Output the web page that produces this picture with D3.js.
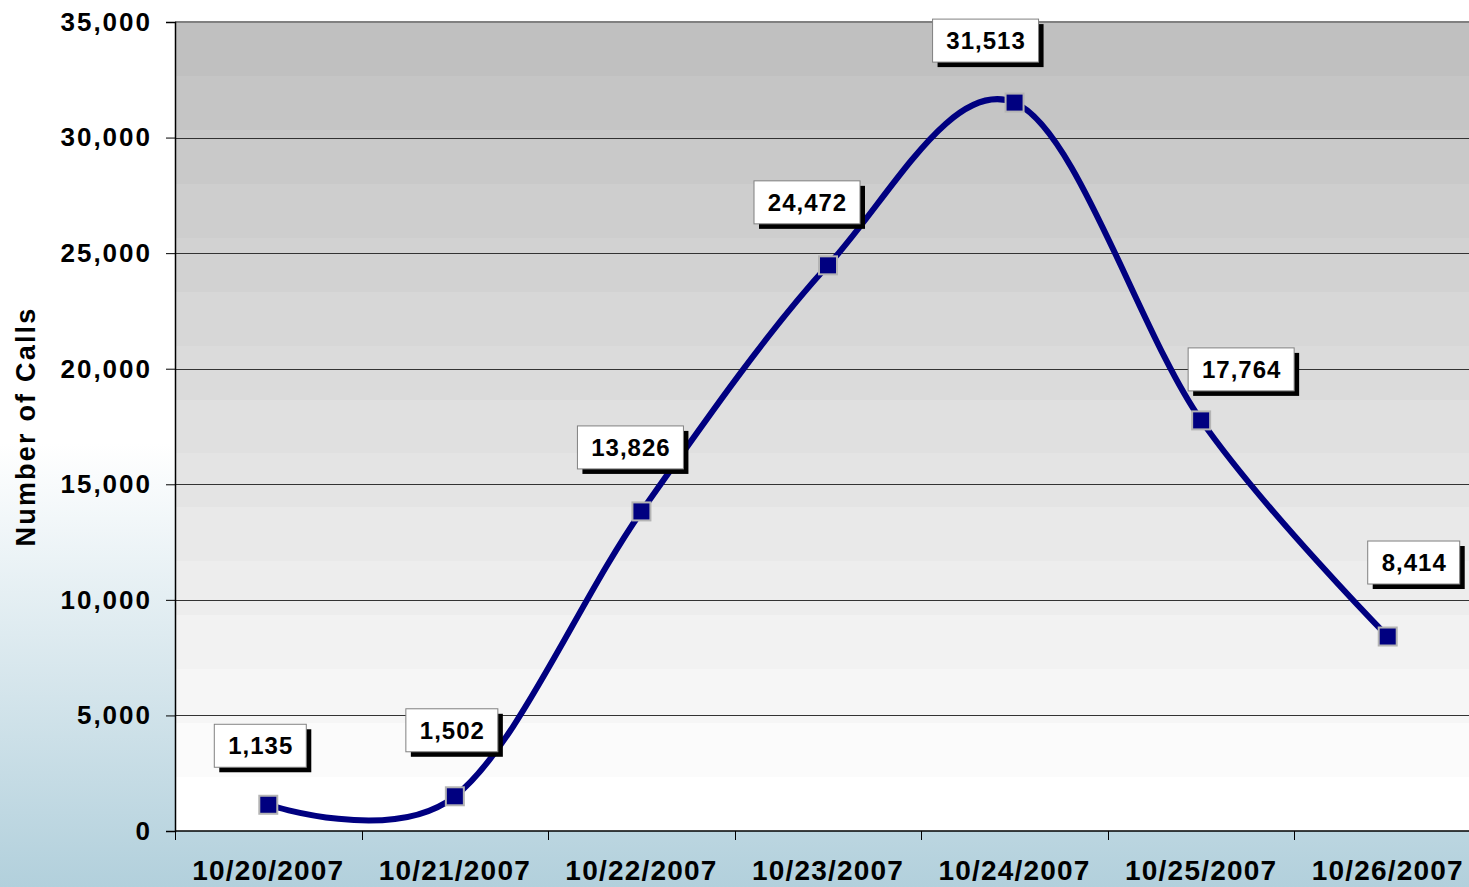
<!DOCTYPE html>
<html>
<head>
<meta charset="utf-8">
<script src="https://cdn.jsdelivr.net/npm/d3@7.9.0/dist/d3.min.js"></script>
<style>
  body { margin: 0; background: #fff; }
  svg { display: block; font-family: "Liberation Sans", Arial, sans-serif; font-weight: bold; }
</style>
</head>
<body>
<svg id="chart" width="1469" height="887"></svg>
<script>
const dates = ['10/20/2007', '10/21/2007', '10/22/2007', '10/23/2007', '10/24/2007', '10/25/2007', '10/26/2007'];
const calls = [1135, 1502, 13826, 24472, 31513, 17764, 8414];
const yTicks = [0, 5000, 10000, 15000, 20000, 25000, 30000, 35000];
// labels were dragged by hand in the original, so each has its own offset (px)
const labelOffsets = [[-8, -59], [-3, -66], [-11, -64], [-21, -63], [-29, -62], [40, -51], [26, -74]];

const width = 1469, height = 887;
const plot = { left: 175, right: 1481, top: 22, bottom: 831 };

const svg = d3.select('#chart');
const defs = svg.append('defs');

// outer background: white fading to pale blue at the bottom
let outerGrad = defs.append('linearGradient')
    .attr('id', 'outerGrad')
    .attr('x1', 0).attr('y1', 0).attr('x2', 0).attr('y2', 1);
outerGrad.append('stop').attr('offset', 0).attr('stop-color', '#ffffff');
outerGrad.append('stop').attr('offset', 0.5).attr('stop-color', '#ffffff');
outerGrad.append('stop').attr('offset', 1).attr('stop-color', '#b2d0dc');

// plot area: banded grey-to-white gradient like Excel draws it
let plotGrad = defs.append('linearGradient')
    .attr('id', 'plotGrad')
    .attr('x1', 0).attr('y1', 0).attr('x2', 0).attr('y2', 1);
const bands = 15;
const shade = d3.interpolateRgb('#c0c0c0', '#ffffff');
d3.range(bands).forEach(i => {
    let c = shade(i / (bands - 1));
    plotGrad.append('stop').attr('offset', i / bands).attr('stop-color', c);
    plotGrad.append('stop').attr('offset', (i + 1) / bands).attr('stop-color', c);
});

svg.append('rect').attr('width', width).attr('height', height).attr('fill', 'url(#outerGrad)');

const x = d3.scaleBand().domain(dates).range([plot.left, plot.right]);
const y = d3.scaleLinear().domain([0, 35000]).range([plot.bottom, plot.top]);
const cx = d => x(d) + x.bandwidth() / 2;

svg.append('rect')
    .attr('x', plot.left).attr('y', plot.top)
    .attr('width', plot.right - plot.left).attr('height', plot.bottom - plot.top)
    .attr('fill', 'url(#plotGrad)');

// gridlines
svg.append('g')
    .selectAll('line')
    .data(yTicks.slice(1, -1))
    .join('line')
    .attr('x1', plot.left).attr('x2', plot.right)
    .attr('y1', d => Math.round(y(d)) + 0.5).attr('y2', d => Math.round(y(d)) + 0.5)
    .attr('stroke', '#333').attr('stroke-width', 1);

svg.append('line')
    .attr('x1', plot.left).attr('x2', plot.right)
    .attr('y1', plot.top).attr('y2', plot.top)
    .attr('stroke', '#808080').attr('stroke-width', 2);

// y axis
let yAxis = svg.append('g')
    .attr('transform', `translate(${plot.left},0)`)
    .call(d3.axisLeft(y).tickValues(yTicks).tickFormat(d3.format(',')).tickSize(9).tickPadding(14));
yAxis.select('.domain').attr('stroke', '#000').attr('stroke-width', 1.5);
yAxis.selectAll('.tick line').attr('stroke', '#000');
yAxis.selectAll('.tick text')
    .attr('font-size', 26)
    .attr('font-family', '"Liberation Sans", Arial, sans-serif')
    .attr('font-weight', 'bold')
    .attr('letter-spacing', 2)
    .attr('fill', '#000');

// x axis: labels in the middle, ticks on the category boundaries
let xAxis = svg.append('g')
    .attr('transform', `translate(0,${plot.bottom})`)
    .call(d3.axisBottom(x).tickSize(0).tickPadding(29));
xAxis.select('.domain').remove();
xAxis.selectAll('.tick text')
    .attr('font-size', 28)
    .attr('font-family', '"Liberation Sans", Arial, sans-serif')
    .attr('font-weight', 'bold')
    .attr('letter-spacing', 1.2)
    .attr('fill', '#000');

svg.append('line')
    .attr('x1', plot.left).attr('x2', plot.right)
    .attr('y1', plot.bottom).attr('y2', plot.bottom)
    .attr('stroke', '#000').attr('stroke-width', 1.5);

svg.append('g')
    .selectAll('line')
    .data(dates)
    .join('line')
    .attr('x1', d => Math.round(x(d)) + 0.5).attr('x2', d => Math.round(x(d)) + 0.5)
    .attr('y1', plot.bottom).attr('y2', plot.bottom + 9)
    .attr('stroke', '#000');

// axis title
svg.append('text')
    .attr('transform', `translate(35,${(plot.top + plot.bottom) / 2}) rotate(-90)`)
    .attr('text-anchor', 'middle')
    .attr('font-size', 27)
    .attr('letter-spacing', 2.2)
    .text('Number of Calls');

// smoothed line
const points = dates.map((d, i) => ({ date: d, value: calls[i] }));
const line = d3.line()
    .x(d => cx(d.date))
    .y(d => y(d.value))
    .curve(d3.curveCardinal.tension(0));

svg.append('path')
    .datum(points)
    .attr('d', line)
    .attr('fill', 'none')
    .attr('stroke', '#000080')
    .attr('stroke-width', 6);

// markers
svg.append('g')
    .selectAll('rect')
    .data(points)
    .join('rect')
    .attr('x', d => cx(d.date) - 9)
    .attr('y', d => y(d.value) - 9)
    .attr('width', 18).attr('height', 18)
    .attr('fill', '#000080')
    .attr('stroke', '#b4b4b4')
    .attr('stroke-width', 2);

// data labels: white box with a black drop shadow
let labels = svg.append('g')
    .selectAll('g')
    .data(points)
    .join('g')
    .attr('transform', (d, i) => `translate(${cx(d.date) + labelOffsets[i][0]},${y(d.value) + labelOffsets[i][1]})`);

labels.each(function (d) {
    let g = d3.select(this);
    let shadow = g.append('rect').attr('fill', '#000');
    let box = g.append('rect').attr('fill', '#fff').attr('stroke', '#808080').attr('stroke-width', 1);
    let t = g.append('text')
        .attr('text-anchor', 'middle')
        .attr('dx', 0.5)
        .attr('y', 8.5)
        .attr('font-size', 24)
        .attr('letter-spacing', 1)
        .text(d3.format(',')(d.value));
    let w = Math.round(t.node().getComputedTextLength() + 27);
    let h = 43;
    box.attr('x', -w / 2).attr('y', -h / 2).attr('width', w).attr('height', h);
    shadow.attr('x', -w / 2 + 5).attr('y', -h / 2 + 5).attr('width', w).attr('height', h);
});
</script>
</body>
</html>
